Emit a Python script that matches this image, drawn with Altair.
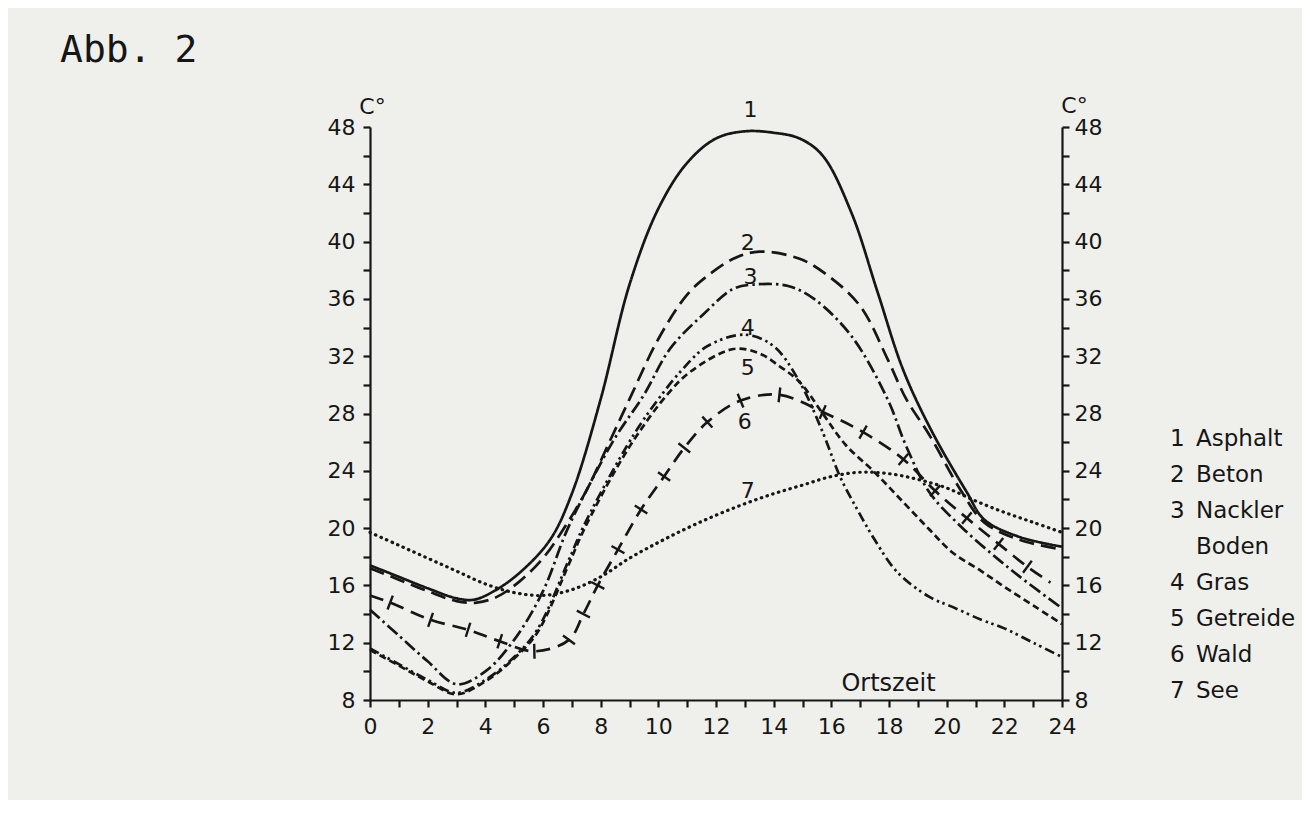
import altair as alt
import numpy as np
import pandas as pd

# ---------------- data (hour of day, temperature in C) ----------
H1 = [0, 1, 2, 3, 3.6, 4.3, 5.2, 6.25, 7, 8, 9, 10, 11, 12, 13, 14, 14.9, 15.7, 16.7, 17.6, 18.5, 19.5, 20.7, 21.3, 22.5, 24]
T1 = [17.4, 16.6, 15.8, 15.1, 15.0, 15.6, 16.9, 19.2, 22.4, 29.0, 37.0, 42.3, 45.5, 47.2, 47.7, 47.6, 47.2, 46.0, 42.0, 36.5, 31.0, 26.7, 22.5, 20.6, 19.4, 18.7]

H2 = [0, 1, 2, 3, 3.7, 4.4, 5.2, 6, 6.7, 7.5, 8.3, 9, 10, 11, 11.7, 12.6, 13.5, 14.9, 15.9, 17, 17.95, 18.6, 19.4, 20.5, 21.3, 22.5, 24]
T2 = [17.2, 16.4, 15.6, 14.9, 14.8, 15.2, 16.3, 17.9, 19.9, 22.6, 26.0, 29.0, 33.2, 36.3, 37.6, 38.8, 39.3, 38.8, 37.6, 35.5, 31.8, 29.0, 26.5, 22.6, 20.4, 19.2, 18.5]

H3 = [0, 1, 2, 3, 4, 5, 6, 6.8, 7.5, 8.5, 9.5, 10.4, 11.6, 12.6, 13.3, 14.5, 15.4, 16.7, 17.95, 18.6, 19.4, 20.5, 21.8, 22.8, 24]
T3 = [14.3, 12.5, 10.7, 9.1, 10.0, 12.2, 15.6, 19.7, 22.6, 26.3, 29.3, 32.5, 35.0, 36.7, 37.0, 36.9, 36.0, 33.4, 29.0, 25.7, 22.5, 20.1, 17.8, 16.2, 14.4]

H4 = [0, 1, 2, 3, 4, 5, 5.8, 6.9, 7.4, 8.5, 9.3, 10, 10.8, 11.7, 13, 14, 14.9, 15.7, 16.3, 16.9, 17.5, 18.3, 19.4, 20.2, 21.2, 22, 23, 24]
T4 = [11.6, 10.5, 9.4, 8.5, 9.4, 11.0, 12.9, 17.8, 20.1, 24.3, 27.0, 29.0, 31.0, 32.7, 33.5, 32.7, 30.2, 26.7, 23.6, 21.3, 19.2, 16.9, 15.2, 14.5, 13.6, 13.0, 12.0, 11.0]

H5 = [0, 1, 2, 3, 4, 5, 5.8, 6.9, 7.4, 8.5, 9.3, 10.3, 11.1, 12.6, 13.5, 14.2, 14.9, 15.7, 16.5, 17.5, 18.5, 19.4, 20.2, 21.2, 22, 23, 24]
T5 = [11.5, 10.4, 9.3, 8.4, 9.3, 10.9, 12.7, 17.5, 19.8, 24.0, 26.6, 29.3, 30.9, 32.5, 32.2, 31.3, 30.2, 28.0, 25.8, 23.9, 21.8, 19.9, 18.3, 17.0, 15.9, 14.6, 13.3]

H6 = [0, 0.7, 2.1, 3.4, 4.5, 5.7, 6.9, 7.4, 7.9, 8.6, 9.4, 10.2, 10.9, 11.7, 12.85, 14.2, 15.7, 17.1, 18.5, 19.6, 20.7, 21.8, 22.8, 23.6]
T6 = [15.3, 14.8, 13.6, 12.9, 12.1, 11.4, 12.2, 14.0, 16.0, 18.5, 21.3, 23.6, 25.6, 27.4, 28.9, 29.3, 28.1, 26.7, 24.8, 22.6, 20.7, 18.9, 17.3, 16.2]

H7 = list(range(25))
T7 = [19.7, 18.8, 17.9, 17.0, 16.1, 15.5, 15.3, 15.7, 16.6, 17.9, 19.0, 20.0, 20.9, 21.7, 22.4, 23.0, 23.6, 23.9, 23.8, 23.4, 22.8, 21.9, 21.1, 20.4, 19.7]

CURVE_NAMES = ["Asphalt", "Beton", "Nackler Boden", "Gras", "Getreide", "Wald", "See"]

LABEL_TEXT = ["1", "2", "3", "4", "5", "6", "7"]
LABEL_HOUR = [13.2, 13.1, 13.2, 13.1, 13.1, 13.0, 13.1]
LABEL_TEMP = [49.2, 39.9, 37.5, 34.0, 31.2, 27.4, 22.6]

LEGEND_NUMS_A = ["1", "2", "3"]
LEGEND_NUMS_B = ["4", "5", "6", "7"]
LEGEND_NAMES = ["Asphalt", "Beton", "Nackler", "Boden", "Gras", "Getreide", "Wald", "See"]

X_TICKS = list(range(0, 25))
Y_TICKS = list(range(8, 49, 2))

# ---------------- styling ----------------
INK = "#161616"
BG = "#efefec"
W, H = 692, 573
FONT = "DejaVu Sans"
LEG_LH = 36

xs = alt.Scale(domain=[0, 24], nice=False, zero=False)
ys = alt.Scale(domain=[8, 48], nice=False, zero=False)

axis_common = dict(
    grid=False, domainColor=INK, domainWidth=2.2, tickColor=INK, tickWidth=2.2,
    tickSize=7, labelColor=INK, labelFont=FONT, labelFontSize=22, labelFlush=False,
    labelOverlap=False, titleColor=INK, titleFont=FONT, titleFontWeight="normal",
)

x_enc = alt.X("hour:Q", scale=xs, axis=alt.Axis(
    values=X_TICKS, labelExpr="datum.value % 2 == 0 ? datum.label : ''",
    labelPadding=9, title="Ortszeit", titleFontSize=24, titleX=518, titleY=-10,
    titleAlign="center", titleBaseline="alphabetic", **axis_common))

y_left = alt.Y("temp:Q", scale=ys, axis=alt.Axis(
    values=Y_TICKS, labelExpr="datum.value % 4 == 0 ? datum.label : ''",
    labelPadding=8, title="C°", titleFontSize=22, titleAngle=0, titleX=2, titleY=-14,
    titleAlign="center", titleBaseline="alphabetic", **axis_common))
y_right = alt.Y("temp:Q", scale=ys, axis=alt.Axis(
    orient="right", values=Y_TICKS, labelExpr="datum.value % 4 == 0 ? datum.label : ''",
    labelPadding=5, title="C°", titleFontSize=22, titleAngle=0, titleX=12, titleY=-15,
    titleAlign="center", titleBaseline="alphabetic", **axis_common))
y_none = alt.Y("temp:Q", scale=ys, axis=None)


def frame(h, t, name):
    return pd.DataFrame({"hour": h, "temp": t, "curve": name})


curves = [
    (H1, T1, CURVE_NAMES[0], [1, 0], "butt"),
    (H2, T2, CURVE_NAMES[1], [15, 7], "butt"),
    (H3, T3, CURVE_NAMES[2], [13, 4, 2.5, 4], "butt"),
    (H4, T4, CURVE_NAMES[3], [10, 4, 2.5, 3.5, 2.5, 4], "butt"),
    (H5, T5, CURVE_NAMES[4], [7, 4], "butt"),
    (H6, T6, CURVE_NAMES[5], [14, 8], "butt"),
    (H7, T7, CURVE_NAMES[6], [0.5, 5.5], "round"),
]

layers = []
for i, (h, t, name, dash, cap) in enumerate(curves):
    layers.append(
        alt.Chart(frame(h, t, name)).mark_line(
            color=INK, strokeWidth=2.7 if cap == "butt" else 3.2, strokeDash=dash,
            strokeCap=cap, interpolate="catmull-rom"
        ).encode(x=x_enc, y=y_left if i == 0 else y_none)
    )

# cross ticks on curve 6 (Wald), drawn perpendicular to the curve
h6 = np.array(H6, dtype=float)
t6 = np.array(T6, dtype=float)
slope = np.gradient(t6, h6)
px_h = W / 24.0
px_t = H / 40.0
theta = np.degrees(np.arctan(-slope * px_t / px_h))
tick_df = pd.DataFrame({"hour": h6, "temp": t6, "ang": (theta + 360.0) % 360.0}).iloc[1:-1]
ticks = alt.Chart(tick_df).mark_point(
    shape="M0,-1L0,1", size=220, filled=False, stroke=INK, strokeWidth=2.4, opacity=1
).encode(x=x_enc, y=y_right, angle=alt.Angle("ang:Q", scale=None))
layers.append(ticks)

# curve numbers
lab_df = pd.DataFrame({"hour": LABEL_HOUR, "temp": LABEL_TEMP, "txt": LABEL_TEXT})
labels = alt.Chart(lab_df).mark_text(
    font=FONT, fontSize=22, color=INK, align="center", baseline="middle"
).encode(x=x_enc, y=y_none, text="txt:N")
layers.append(labels)

one = pd.DataFrame({"k": [0]})
leg_style = dict(font=FONT, fontSize=23, color=INK, align="left",
                 baseline="alphabetic", lineHeight=LEG_LH)
leg_nums_a = alt.Chart(one).mark_text(text=LEGEND_NUMS_A, **leg_style).encode(
    x=alt.value(800), y=alt.value(319))
leg_nums_b = alt.Chart(one).mark_text(text=LEGEND_NUMS_B, **leg_style).encode(
    x=alt.value(800), y=alt.value(319 + 4 * LEG_LH))
leg_names = alt.Chart(one).mark_text(text=LEGEND_NAMES, **leg_style).encode(
    x=alt.value(826), y=alt.value(319))
title = alt.Chart(one).mark_text(
    text="Abb. 2", font="DejaVu Sans Mono", fontSize=38, color=INK, align="left",
    baseline="alphabetic"
).encode(x=alt.value(-310), y=alt.value(-65))
layers += [leg_nums_a, leg_nums_b, leg_names, title]

chart = alt.layer(*layers).resolve_scale(y="independent").properties(
    width=W, height=H,
    autosize=alt.AutoSizeParams(type="none"),
    padding={"left": 362, "top": 119, "right": 240, "bottom": 100},
    background=BG,
).configure_view(stroke=None)

chart.save("out.html", embed_options={"renderer": "svg", "actions": False})
